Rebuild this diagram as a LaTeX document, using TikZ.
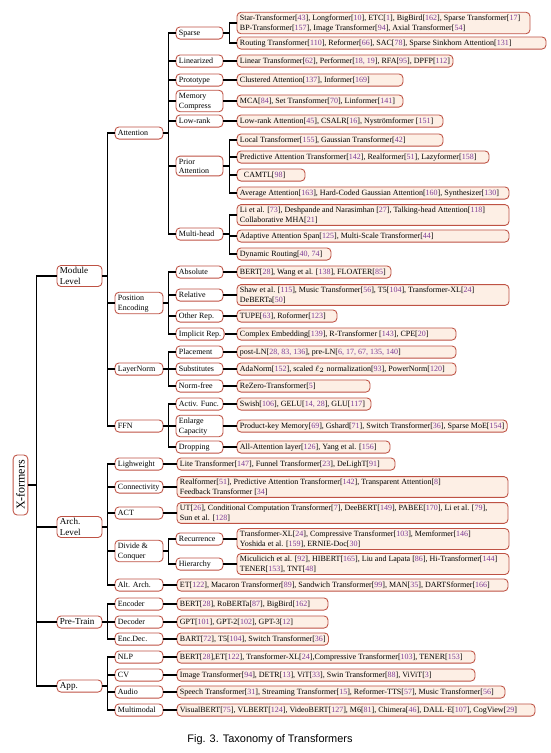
\documentclass[tikz,border=0pt]{standalone}
\usepackage{fontspec}
\setmainfont{Liberation Serif}
\newfontfamily\capfont{Liberation Sans}
\usetikzlibrary{fit,backgrounds}
\definecolor{bord}{RGB}{190,82,68}
\definecolor{leaff}{RGB}{253,239,229}
\definecolor{citec}{RGB}{125,60,150}
\newcommand\Rf[1]{[\textcolor{citec}{#1}]}
\newcommand\lffont{\fontsize{6}{7.2}\selectfont}
\newcommand\tpfont{\fontsize{6.8}{8}\selectfont}
\newcommand\stt{\rule[-1.5pt]{0pt}{6.1pt}}
% style, font, name, xl, xr, y, text
\newcommand\BX[7]{%
  \node[txt,font=#2,anchor=west] (#3t) at ([xshift=2pt]#4,#6) {\stt#7};
  \coordinate (#3c) at ([xshift=-2pt]#5,#6);
  \begin{scope}[on background layer]
    \node[#1,fit=(#3t)(#3c)] (#3) {};
  \end{scope}}
\newcommand\FK[3]{\draw[conn] (#1.east) -- ++(#3,0) |- (#2.west);}
\begin{document}
\begin{tikzpicture}[x=0.75pt,y=-0.75pt,
 txt/.style={inner sep=0pt,align=left},
 base/.style={draw=bord,line width=0.65pt,rounded corners=3pt,inner xsep=2pt,inner ysep=1.3pt,minimum height=8.2pt},
 leafbox/.style={base,fill=leaff},
 catbox/.style={base,fill=white},
 conn/.style={line width=0.8pt,black}]
\useasboundingbox (0,0) rectangle (550,753);
\node[draw=bord,line width=0.65pt,rounded corners=3pt,rotate=90,font=\fontsize{9}{10}\selectfont,minimum width=45pt,minimum height=11pt,inner sep=1pt] (root) at (20.5,485) {X-formers};
% level 1
\BX{catbox}{\tpfont}{ml}{57}{102}{276}{Module\\Level}
\BX{catbox}{\tpfont}{al}{57}{102}{527}{Arch.\\Level}
\BX{catbox}{\tpfont}{pt}{57}{102}{622}{Pre-Train}
\BX{catbox}{\tpfont}{app}{57}{102}{686}{App.}
% level 2
\BX{catbox}{\lffont}{att}{115}{163}{133}{Attention}
\BX{catbox}{\lffont}{pe}{115}{163}{303}{Position\\Encoding}
\BX{catbox}{\lffont}{ln}{115}{163}{369}{LayerNorm}
\BX{catbox}{\lffont}{ffn}{115}{163}{426}{FFN}
\BX{catbox}{\lffont}{lw}{115}{163}{464}{Lighweight}
\BX{catbox}{\lffont}{con}{115}{163}{487}{Connectivity}
\BX{catbox}{\lffont}{act}{115}{163}{513}{ACT}
\BX{catbox}{\lffont}{dc}{115}{163}{551}{Divide \&\\Conquer}
\BX{catbox}{\lffont}{alt}{115}{163}{585}{Alt. Arch.}
\BX{catbox}{\lffont}{enc}{115}{163}{604}{Encoder}
\BX{catbox}{\lffont}{dec}{115}{163}{622}{Decoder}
\BX{catbox}{\lffont}{ed}{115}{163}{639}{Enc.Dec.}
\BX{catbox}{\lffont}{nlp}{115}{163}{657}{NLP}
\BX{catbox}{\lffont}{cv}{115}{163}{675}{CV}
\BX{catbox}{\lffont}{aud}{115}{163}{692}{Audio}
\BX{catbox}{\lffont}{mm}{115}{163}{710}{Multimodal}
% level 3
\BX{catbox}{\lffont}{sp}{176}{223}{33}{Sparse}
\BX{catbox}{\lffont}{lin}{176}{223}{61}{Linearized}
\BX{catbox}{\lffont}{pro}{176}{223}{80}{Prototype}
\BX{catbox}{\lffont}{mem}{176}{223}{101}{Memory\\Compress}
\BX{catbox}{\lffont}{lr}{176}{223}{121}{Low-rank}
\BX{catbox}{\lffont}{pa}{176}{223}{166}{Prior\\Attention}
\BX{catbox}{\lffont}{mh}{176}{223}{234}{Multi-head}
\BX{catbox}{\lffont}{abs}{176}{223}{272}{Absolute}
\BX{catbox}{\lffont}{rel}{176}{223}{295}{Relative}
\BX{catbox}{\lffont}{oth}{176}{223}{316}{Other Rep.}
\BX{catbox}{\lffont}{imp}{176}{223}{334}{Implicit Rep.}
\BX{catbox}{\lffont}{plc}{176}{223}{352}{Placement}
\BX{catbox}{\lffont}{sub}{176}{223}{369}{Substitutes}
\BX{catbox}{\lffont}{nf}{176}{223}{386}{Norm-free}
\BX{catbox}{\lffont}{af}{176}{223}{404}{Activ. Func.}
\BX{catbox}{\lffont}{ec}{176}{223}{426}{Enlarge\\Capacity}
\BX{catbox}{\lffont}{drp}{176}{223}{447}{Dropping}
\BX{catbox}{\lffont}{rec}{176}{223}{539}{Recurrence}
\BX{catbox}{\lffont}{hie}{176}{223}{564}{Hierarchy}
% leaves
\BX{leafbox}{\lffont}{l1}{237}{530}{23}{Star-Transformer\Rf{43}, Longformer\Rf{10}, ETC\Rf{1}, BigBird\Rf{162}, Sparse Transformer\Rf{17}\\BP-Transformer\Rf{157}, Image Transformer\Rf{94}, Axial Transformer\Rf{54}}
\BX{leafbox}{\lffont}{l2}{237}{546}{43}{Routing Transformer\Rf{110}, Reformer\Rf{66}, SAC\Rf{78}, Sparse Sinkhorn Attention\Rf{131}}
\BX{leafbox}{\lffont}{l3}{237}{393}{61}{Linear Transformer\Rf{62}, Performer\Rf{18, 19}, RFA\Rf{95}, DPFP\Rf{112}}
\BX{leafbox}{\lffont}{l4}{237}{403}{80}{Clustered Attention\Rf{137}, Informer\Rf{169}}
\BX{leafbox}{\lffont}{l5}{237}{403}{101}{MCA\Rf{84}, Set Transformer\Rf{70}, Linformer\Rf{141}}
\BX{leafbox}{\lffont}{l6}{237}{443}{121}{Low-rank Attention\Rf{45}, CSALR\Rf{16}, Nyströmformer \Rf{151}}
\BX{leafbox}{\lffont}{l7}{237}{443}{140}{Local Transformer\Rf{155}, Gaussian Transformer\Rf{42}}
\BX{leafbox}{\lffont}{l8}{237}{489}{157}{Predictive Attention Transformer\Rf{142}, Realformer\Rf{51}, Lazyformer\Rf{158}}
\BX{leafbox}{\lffont}{l9}{237}{305}{175}{\hspace*{3pt}CAMTL\Rf{98}}
\BX{leafbox}{\lffont}{l10}{237}{509}{193}{Average Attention\Rf{163}, Hard-Coded Gaussian Attention\Rf{160}, Synthesizer\Rf{130}}
\BX{leafbox}{\lffont}{l11}{237}{509}{215}{Li et al. \Rf{73}, Deshpande and Narasimhan \Rf{27}, Talking-head Attention\Rf{118}\\Collaborative MHA\Rf{21}}
\BX{leafbox}{\lffont}{l12}{237}{509}{236}{Adaptive Attention Span\Rf{125}, Multi-Scale Transformer\Rf{44}}
\BX{leafbox}{\lffont}{l13}{237}{331}{254}{Dynamic Routing\Rf{40, 74}}
\BX{leafbox}{\lffont}{l14}{237}{391}{272}{BERT\Rf{28}, Wang et al. \Rf{138}, FLOATER\Rf{85}}
\BX{leafbox}{\lffont}{l15}{237}{509}{295}{Shaw et al. \Rf{115}, Music Transformer\Rf{56}, T5\Rf{104}, Transformer-XL\Rf{24}\\DeBERTa\Rf{50}}
\BX{leafbox}{\lffont}{l16}{237}{337}{316}{TUPE\Rf{63}, Roformer\Rf{123}}
\BX{leafbox}{\lffont}{l17}{237}{456}{334}{Complex Embedding\Rf{139}, R-Transformer \Rf{143}, CPE\Rf{20}}
\BX{leafbox}{\lffont}{l18}{237}{456}{352}{post-LN\Rf{28, 83, 136}, pre-LN\Rf{6, 17, 67, 135, 140}}
\BX{leafbox}{\lffont}{l19}{237}{456}{369}{AdaNorm\Rf{152}, scaled $\ell_2$ normalization\Rf{93}, PowerNorm\Rf{120}}
\BX{leafbox}{\lffont}{l20}{237}{370}{386}{ReZero-Transformer\Rf{5}}
\BX{leafbox}{\lffont}{l21}{237}{371}{404}{Swish\Rf{106}, GELU\Rf{14, 28}, GLU\Rf{117}}
\BX{leafbox}{\lffont}{l22}{237}{507}{426}{Product-key Memory\Rf{69}, Gshard\Rf{71}, Switch Transformer\Rf{36}, Sparse MoE\Rf{154}}
\BX{leafbox}{\lffont}{l23}{237}{390}{447}{All-Attention layer\Rf{126}, Yang et al. \Rf{156}}
\BX{leafbox}{\lffont}{l24}{177}{395}{464}{Lite Transformer\Rf{147}, Funnel Transformer\Rf{23}, DeLighT\Rf{91}}
\BX{leafbox}{\lffont}{l25}{177}{508}{487}{Realformer\Rf{51}, Predictive Attention Transformer\Rf{142}, Transparent Attention\Rf{8}\\Feedback Transformer \Rf{34}}
\BX{leafbox}{\lffont}{l26}{177}{508}{513}{UT\Rf{26}, Conditional Computation Transformer\Rf{7}, DeeBERT\Rf{149}, PABEE\Rf{170}, Li et al. \Rf{79},\\Sun et al. \Rf{128}}
\BX{leafbox}{\lffont}{l27}{237}{509}{539}{Transformer-XL\Rf{24}, Compressive Transformer\Rf{103}, Memformer\Rf{146}\\Yoshida et al. \Rf{159}, ERNIE-Doc\Rf{30}}
\BX{leafbox}{\lffont}{l28}{237}{509}{564}{Miculicich et al. \Rf{92}, HIBERT\Rf{165}, Liu and Lapata \Rf{86}, Hi-Transformer\Rf{144}\\TENER\Rf{153}, TNT\Rf{48}}
\BX{leafbox}{\lffont}{l29}{177}{508}{585}{ET\Rf{122}, Macaron Transformer\Rf{89}, Sandwich Transformer\Rf{99}, MAN\Rf{35}, DARTSformer\Rf{166}}
\BX{leafbox}{\lffont}{l30}{177}{328}{604}{BERT\Rf{28}, RoBERTa\Rf{87}, BigBird\Rf{162}}
\BX{leafbox}{\lffont}{l31}{177}{328}{622}{GPT\Rf{101}, GPT-2\Rf{102}, GPT-3\Rf{12}}
\BX{leafbox}{\lffont}{l32}{177}{328}{639}{BART\Rf{72}, T5\Rf{104}, Switch Transformer\Rf{36}}
\BX{leafbox}{\lffont}{l33}{177}{475}{657}{BERT\Rf{28},ET\Rf{122}, Transformer-XL\Rf{24},Compressive Transformer\Rf{103}, TENER\Rf{153}}
\BX{leafbox}{\lffont}{l34}{177}{475}{675}{Image Transformer\Rf{94}, DETR\Rf{13}, ViT\Rf{33}, Swin Transformer\Rf{88}, ViViT\Rf{3}}
\BX{leafbox}{\lffont}{l35}{177}{505}{692}{Speech Transformer\Rf{31}, Streaming Transformer\Rf{15}, Reformer-TTS\Rf{57}, Music Transformer\Rf{56}}
\BX{leafbox}{\lffont}{l36}{177}{535}{710}{VisualBERT\Rf{75}, VLBERT\Rf{124}, VideoBERT\Rf{127}, M6\Rf{81}, Chimera\Rf{46}, DALL·E\Rf{107}, CogView\Rf{29}}
% caption
\node[font=\capfont\fontsize{8.2}{10}\selectfont] (cap) at (270,740) {Fig. 3. Taxonomy of Transformers};
% connectors
\foreach \c in {ml,al,pt,app}{\draw[conn] (root.south) -- ++(8,0) |- (\c.west);}
\foreach \c in {att,pe,ln,ffn}{\FK{ml}{\c}{5}}
\foreach \c in {lw,con,act,dc,alt}{\FK{al}{\c}{5}}
\foreach \c in {enc,dec,ed}{\FK{pt}{\c}{5}}
\foreach \c in {nlp,cv,aud,mm}{\FK{app}{\c}{5}}
\foreach \c in {sp,lin,pro,mem,lr,pa,mh}{\FK{att}{\c}{5}}
\foreach \c in {abs,rel,oth,imp}{\FK{pe}{\c}{5}}
\foreach \c in {plc,sub,nf}{\FK{ln}{\c}{5}}
\foreach \c in {af,ec,drp}{\FK{ffn}{\c}{5}}
\foreach \c in {rec,hie}{\FK{dc}{\c}{5}}
\FK{lw}{l24}{5}\FK{con}{l25}{5}\FK{act}{l26}{5}\FK{alt}{l29}{5}
\FK{enc}{l30}{5}\FK{dec}{l31}{5}\FK{ed}{l32}{5}
\FK{nlp}{l33}{5}\FK{cv}{l34}{5}\FK{aud}{l35}{5}\FK{mm}{l36}{5}
\FK{sp}{l1}{6}\FK{sp}{l2}{6}\FK{lin}{l3}{6}\FK{pro}{l4}{6}\FK{mem}{l5}{6}\FK{lr}{l6}{6}
\foreach \c in {l7,l8,l9,l10}{\FK{pa}{\c}{6}}
\foreach \c in {l11,l12,l13}{\FK{mh}{\c}{6}}
\FK{abs}{l14}{6}\FK{rel}{l15}{6}\FK{oth}{l16}{6}\FK{imp}{l17}{6}
\FK{plc}{l18}{6}\FK{sub}{l19}{6}\FK{nf}{l20}{6}
\FK{af}{l21}{6}\FK{ec}{l22}{6}\FK{drp}{l23}{6}
\FK{rec}{l27}{6}\FK{hie}{l28}{6}
\end{tikzpicture}
\end{document}
